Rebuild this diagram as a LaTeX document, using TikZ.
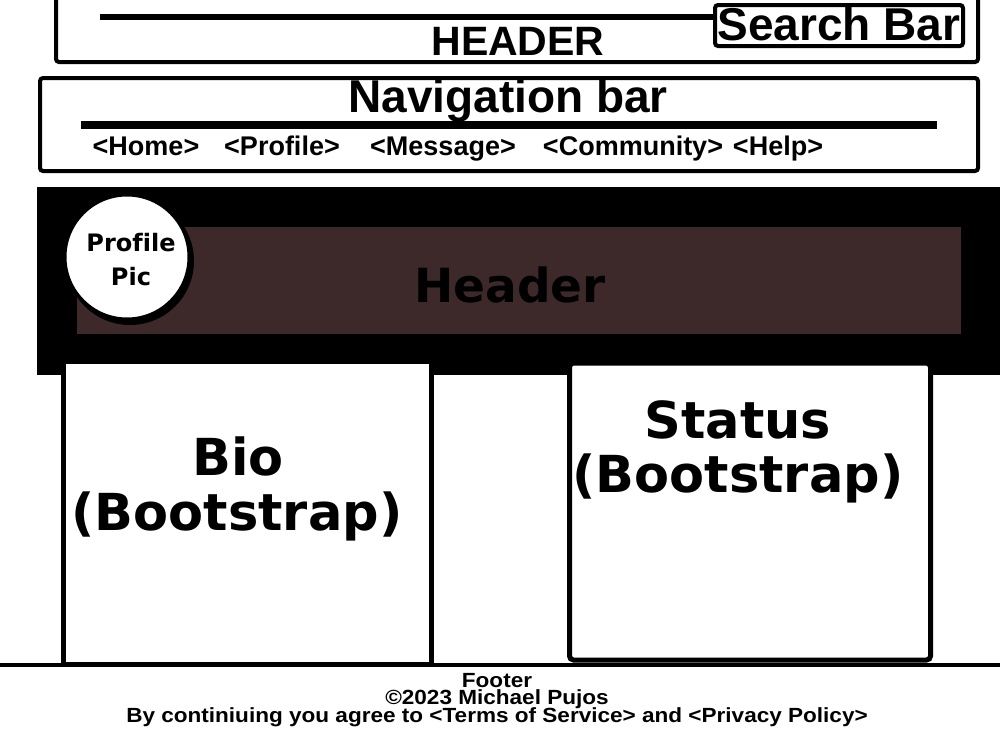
\documentclass[tikz,border=0pt]{standalone}
\usepackage{fontspec}
\newfontfamily\condf{Liberation Sans}
\newfontfamily\footf{Liberation Sans}[FakeStretch=1.1]
\newfontfamily\roundf{DejaVu Sans}[Ligatures=NoCommon]
\newcommand\myfootfont{\footf\bfseries\fontsize{20.5}{17.2}\selectfont\lineskiplimit=-100pt\lineskip=0pt\relax}
\definecolor{banner}{RGB}{62,41,42}
\begin{document}
\begin{tikzpicture}[x=1pt,y=-1pt,
  box/.style={line width=4pt, rounded corners=3pt},
  ctext/.style={font=\condf\bfseries\fontsize{#1}{#1}\selectfont, inner sep=0pt, anchor=base},
  rtext/.style={font=\roundf\bfseries\fontsize{#1}{#1}\selectfont, inner sep=0pt, anchor=base},
  panel/.style={line width=5pt, fill=white}]
\useasboundingbox[fill=white] (0,0) rectangle (1000,728);
\clip (0,0) rectangle (1000,728);
% header
\draw[box] (56,-10) rectangle (978,62);
\draw[line width=6pt] (100,17) -- (713,17);
\draw[box, fill=white] (715,5) rectangle (963,46);
\node[ctext=41] (hdr) at (518,55) {HEADER};
\node[ctext=46] (search) at (839,40) {Search Bar};
% navigation
\draw[box] (40,78) rectangle (978,171);
\draw[line width=8pt] (81,125) -- (937,125);
\node[ctext=46] (nav) at (508,112) {Navigation bar};
\node[ctext=27] (home) at (146,155) {<Home>};
\node[ctext=27] (profile) at (282,155) {<Profile>};
\node[ctext=27] (message) at (443,155) {<Message>};
\node[ctext=27] (community) at (633,155) {<Community>};
\node[ctext=27] (help) at (778,155) {<Help>};
% banner
\fill (37,187) rectangle (1000,375);
\fill[banner] (77,227) rectangle (961,334);
\node[rtext=47] (banhdr) at (510,302) {Header};
\fill (130,261) circle (64);
\draw[line width=3pt, fill=white] (127,257) circle (62);
\node[rtext=24] (pp1) at (131,251) {Profile};
\node[rtext=24] (pp2) at (131,285) {Pic};
% panels
\draw[panel] (63.5,361) rectangle (431,664);
\draw[panel, rounded corners=4pt] (569.5,363) rectangle (930.5,660);
\node[rtext=51] (bio1) at (238,475) {Bio};
\node[rtext=51] (bio2) at (237,530) {(Bootstrap)};
\node[rtext=51] (st1) at (738,438) {Status};
\node[rtext=51] (st2) at (738,492) {(Bootstrap)};
% footer
\draw[line width=4pt] (0,665) -- (1000,665);
\node[font=\myfootfont, inner sep=0pt, align=center, anchor=base] (footer) at (497,722)
  {Footer\\©2023 Michael Pujos\\By continiuing you agree to <Terms of Service> and <Privacy Policy>};
\end{tikzpicture}
\end{document}
